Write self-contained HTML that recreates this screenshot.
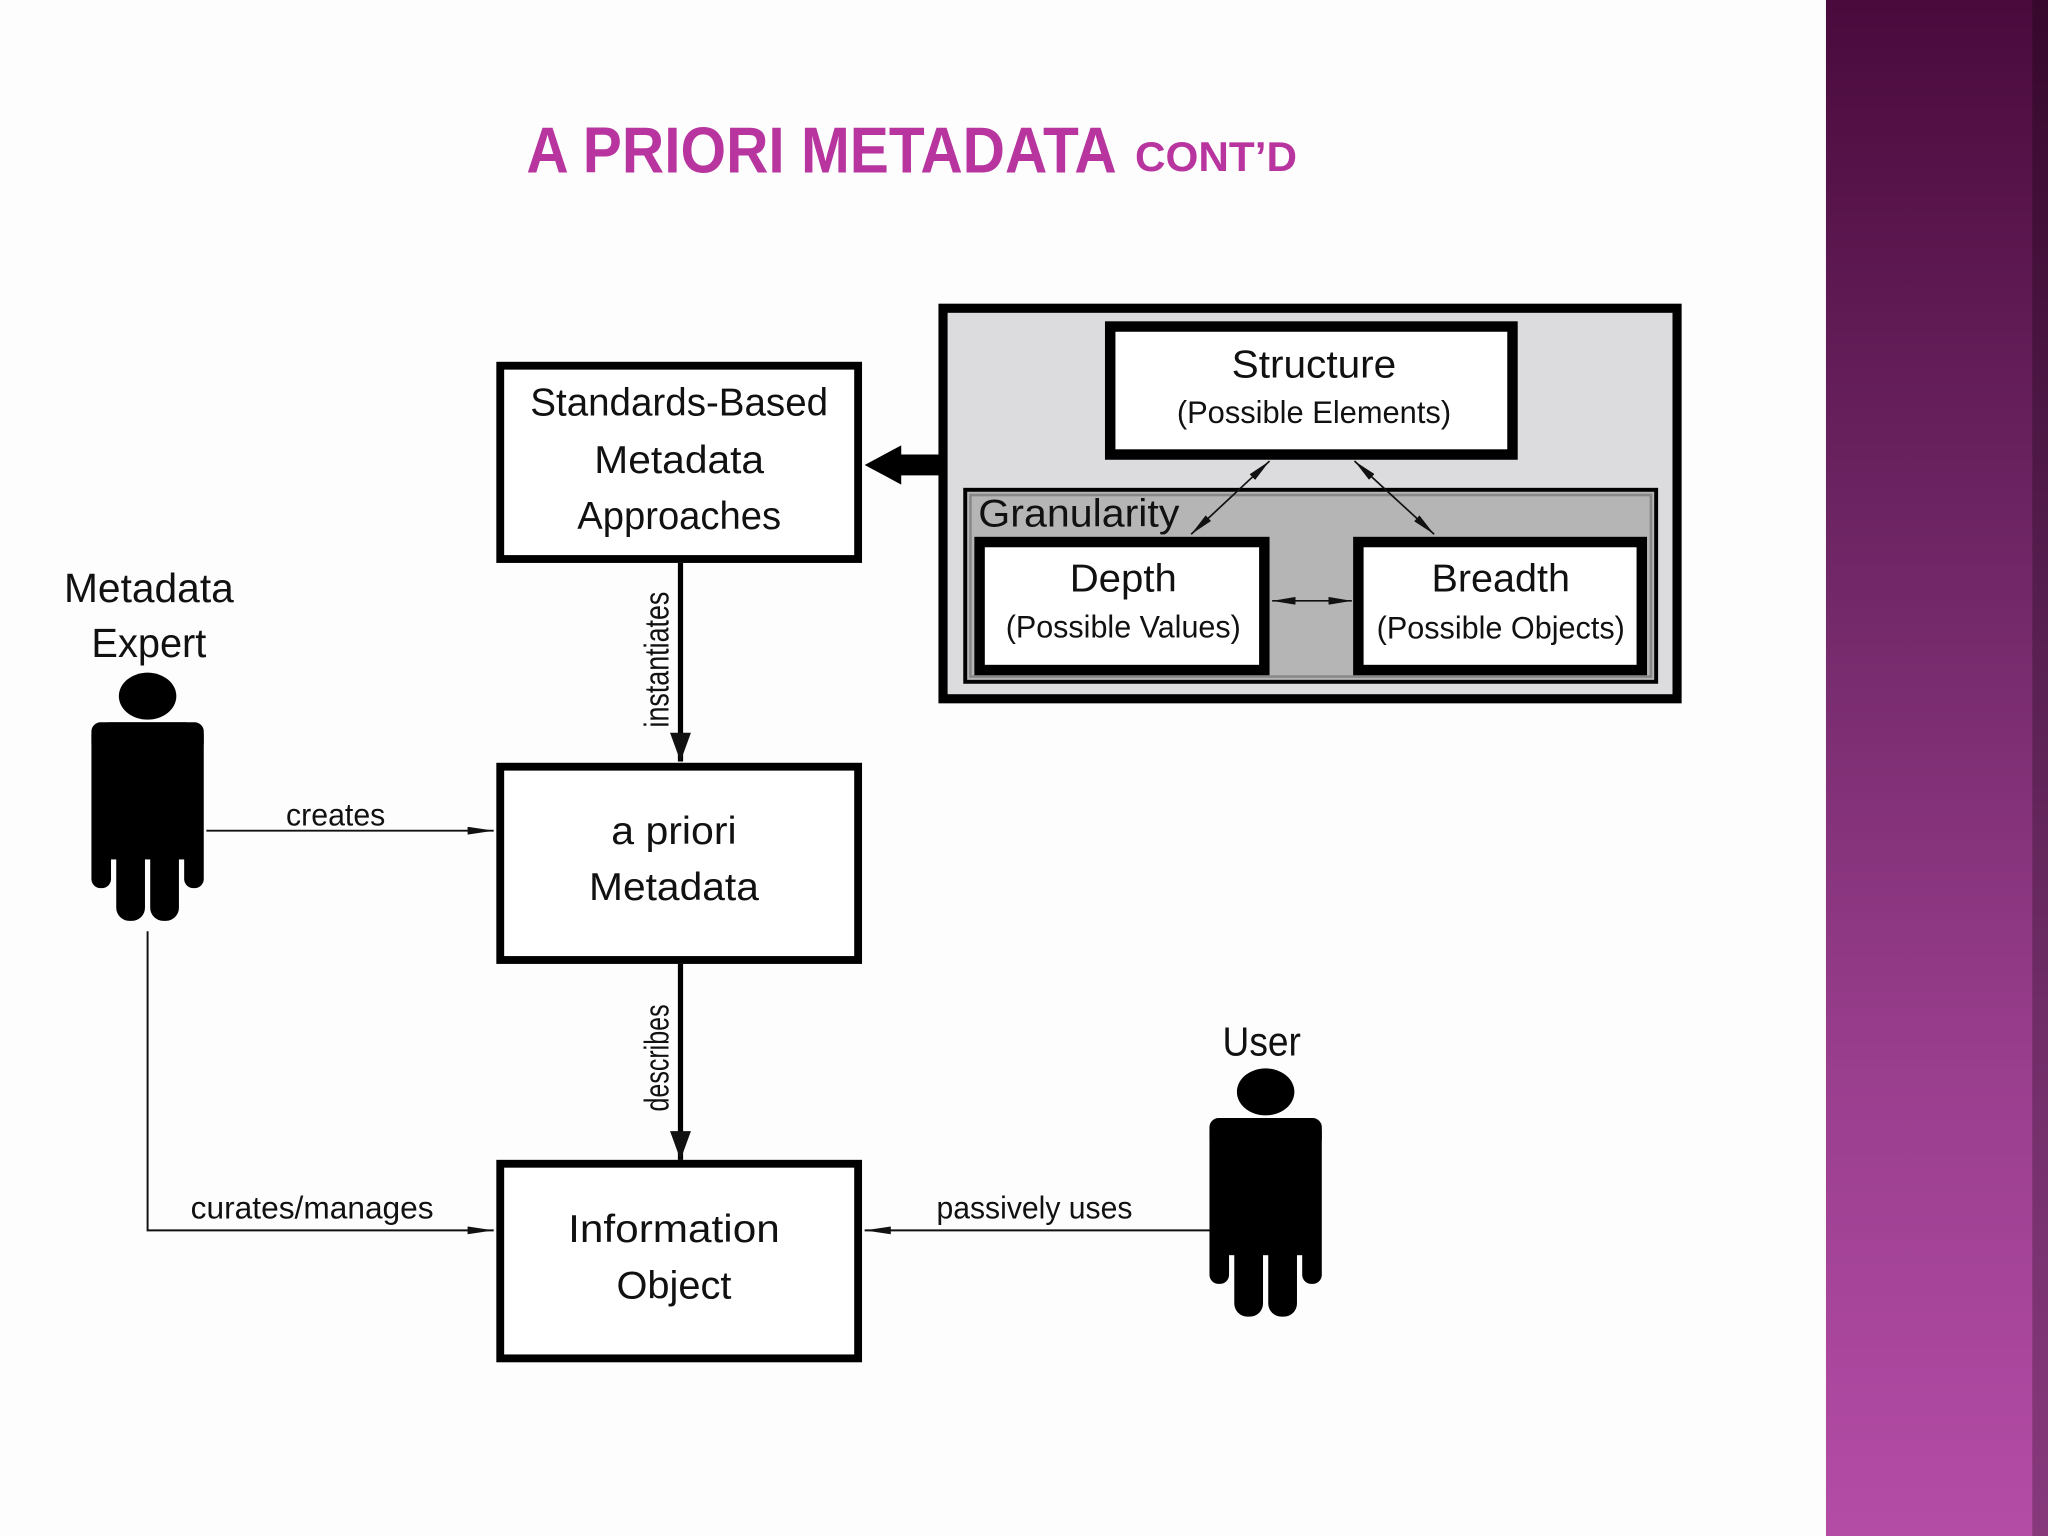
<!DOCTYPE html>
<html><head><meta charset="utf-8"><style>
html,body{margin:0;padding:0;background:#fdfdfd;}
svg{display:block;}
text{font-family:"Liberation Sans",sans-serif;fill:#111;}
</style></head><body>
<svg width="2048" height="1536" viewBox="0 0 1568 1176" xmlns="http://www.w3.org/2000/svg">
<defs>
<linearGradient id="side" x1="0" y1="0" x2="0" y2="1">
<stop offset="0" stop-color="#4a0a3c"/>
<stop offset="0.4" stop-color="#74296a"/>
<stop offset="0.7" stop-color="#9a3e8e"/>
<stop offset="1" stop-color="#b44ca6"/>
</linearGradient>
<marker id="ah" markerWidth="10" markerHeight="8" refX="10" refY="4" orient="auto" markerUnits="userSpaceOnUse">
<path d="M0,0 L10,4 L0,8 z" fill="#111"/></marker>
<marker id="ahs" markerWidth="18" markerHeight="6" refX="18" refY="3" orient="auto-start-reverse" markerUnits="userSpaceOnUse">
<path d="M0,0 L18,3 L0,6 z" fill="#111"/></marker>
<marker id="ahb" markerWidth="22" markerHeight="16" refX="22" refY="8" orient="auto" markerUnits="userSpaceOnUse">
<path d="M0,0 L22,8 L0,16 z" fill="#111"/></marker>
<marker id="ahl" markerWidth="20" markerHeight="6" refX="20" refY="3" orient="auto" markerUnits="userSpaceOnUse">
<path d="M0,0 L20,3 L0,6 z" fill="#111"/></marker>
<g id="person">
<ellipse cx="0" cy="-20" rx="22" ry="18" fill="#000"/>
<rect x="-43" y="0" width="86" height="26" rx="10" fill="#000"/>
<rect x="-43" y="0" width="15" height="127" rx="7" fill="#000"/>
<rect x="28" y="0" width="15" height="127" rx="7" fill="#000"/>
<rect x="-30" y="0" width="60" height="105" fill="#000"/>
<rect x="-24" y="80" width="22" height="72" rx="10" fill="#000"/>
<rect x="2" y="80" width="22" height="72" rx="10" fill="#000"/>
</g>
</defs>
<rect x="0" y="0" width="1398" height="1176" fill="#fdfdfd"/>
<rect x="1398" y="0" width="170" height="1176" fill="url(#side)"/>
<rect x="1556" y="0" width="12" height="1176" fill="#000" opacity="0.25"/>

<text x="403" y="132" font-size="50" font-weight="bold" style="fill:#b8359f" textLength="452" lengthAdjust="spacingAndGlyphs">A PRIORI METADATA</text>
<text x="869" y="131" font-size="32" font-weight="bold" style="fill:#b8359f" textLength="124" lengthAdjust="spacingAndGlyphs">CONT’D</text>

<!-- left boxes -->
<rect x="383" y="280" width="274" height="148" fill="#fff" stroke="#000" stroke-width="6"/>
<text x="520" y="318" font-size="30" text-anchor="middle" textLength="228" lengthAdjust="spacingAndGlyphs">Standards-Based</text>
<text x="520" y="362" font-size="30" text-anchor="middle" textLength="130" lengthAdjust="spacingAndGlyphs">Metadata</text>
<text x="520" y="405" font-size="30" text-anchor="middle" textLength="156" lengthAdjust="spacingAndGlyphs">Approaches</text>

<rect x="383" y="587" width="274" height="148" fill="#fff" stroke="#000" stroke-width="6"/>
<text x="516" y="646" font-size="30" text-anchor="middle" textLength="96" lengthAdjust="spacingAndGlyphs">a priori</text>
<text x="516" y="689" font-size="30" text-anchor="middle" textLength="130" lengthAdjust="spacingAndGlyphs">Metadata</text>

<rect x="383" y="891" width="274" height="149" fill="#fff" stroke="#000" stroke-width="6"/>
<text x="516" y="951" font-size="30" text-anchor="middle" textLength="162" lengthAdjust="spacingAndGlyphs">Information</text>
<text x="516" y="994" font-size="30" text-anchor="middle" textLength="88" lengthAdjust="spacingAndGlyphs">Object</text>

<!-- right complex -->
<rect x="722" y="236" width="562" height="299" fill="#dcdcde" stroke="#000" stroke-width="7"/>
<rect x="739" y="375" width="529" height="147" fill="#b5b5b5" stroke="#000" stroke-width="3"/>
<rect x="743" y="379" width="521" height="139" fill="none" stroke="#888" stroke-width="2"/>
<text x="749" y="403" font-size="30" textLength="154" lengthAdjust="spacingAndGlyphs">Granularity</text>
<rect x="850" y="250" width="308" height="98" fill="#fff" stroke="#000" stroke-width="8"/>
<text x="1006" y="289" font-size="30" text-anchor="middle" textLength="126" lengthAdjust="spacingAndGlyphs">Structure</text>
<text x="1006" y="324" font-size="24" text-anchor="middle" textLength="210" lengthAdjust="spacingAndGlyphs">(Possible Elements)</text>
<rect x="750" y="415" width="218" height="98" fill="#fff" stroke="#000" stroke-width="8"/>
<text x="860" y="453" font-size="30" text-anchor="middle" textLength="82" lengthAdjust="spacingAndGlyphs">Depth</text>
<text x="860" y="488" font-size="24" text-anchor="middle" textLength="180" lengthAdjust="spacingAndGlyphs">(Possible Values)</text>
<rect x="1040" y="415" width="217" height="98" fill="#fff" stroke="#000" stroke-width="8"/>
<text x="1149" y="453" font-size="30" text-anchor="middle" textLength="106" lengthAdjust="spacingAndGlyphs">Breadth</text>
<text x="1149" y="489" font-size="24" text-anchor="middle" textLength="190" lengthAdjust="spacingAndGlyphs">(Possible Objects)</text>
<line x1="912" y1="409" x2="972" y2="353" stroke="#111" stroke-width="1.3" marker-start="url(#ahs)" marker-end="url(#ahs)"/>
<line x1="1098" y1="409" x2="1037" y2="353" stroke="#111" stroke-width="1.3" marker-start="url(#ahs)" marker-end="url(#ahs)"/>
<line x1="974" y1="460" x2="1035" y2="460" stroke="#111" stroke-width="1.3" marker-start="url(#ahs)" marker-end="url(#ahs)"/>

<!-- thick arrow -->
<path d="M722,348 L690,348 L690,341 L662,356 L690,371 L690,364 L722,364 z" fill="#000"/>

<!-- vertical arrows -->
<line x1="521" y1="431" x2="521" y2="583" stroke="#000" stroke-width="4" marker-end="url(#ahb)"/>
<text transform="translate(512,505) rotate(-90)" font-size="26" text-anchor="middle" textLength="104" lengthAdjust="spacingAndGlyphs">instantiates</text>
<line x1="521" y1="738" x2="521" y2="888" stroke="#000" stroke-width="4" marker-end="url(#ahb)"/>
<text transform="translate(512,810) rotate(-90)" font-size="26" text-anchor="middle" textLength="82" lengthAdjust="spacingAndGlyphs">describes</text>

<!-- horizontal connectors -->
<line x1="158" y1="636" x2="378" y2="636" stroke="#111" stroke-width="1.5" marker-end="url(#ahl)"/>
<text x="257" y="632" font-size="24" text-anchor="middle" textLength="76" lengthAdjust="spacingAndGlyphs">creates</text>
<polyline points="113,713 113,942 378,942" fill="none" stroke="#111" stroke-width="1.5" marker-end="url(#ahl)"/>
<text x="239" y="933" font-size="24" text-anchor="middle" textLength="186" lengthAdjust="spacingAndGlyphs">curates/manages</text>
<line x1="926" y1="942" x2="662" y2="942" stroke="#111" stroke-width="1.5" marker-end="url(#ahl)"/>
<text x="792" y="933" font-size="24" text-anchor="middle" textLength="150" lengthAdjust="spacingAndGlyphs">passively uses</text>

<!-- persons -->
<text x="114" y="461" font-size="31" text-anchor="middle" textLength="130" lengthAdjust="spacingAndGlyphs">Metadata</text>
<text x="114" y="503" font-size="31" text-anchor="middle" textLength="88" lengthAdjust="spacingAndGlyphs">Expert</text>
<use href="#person" x="113" y="553"/>
<text x="966" y="808" font-size="31" text-anchor="middle" textLength="60" lengthAdjust="spacingAndGlyphs">User</text>
<use href="#person" x="969" y="856"/>
</svg>
</body></html>
